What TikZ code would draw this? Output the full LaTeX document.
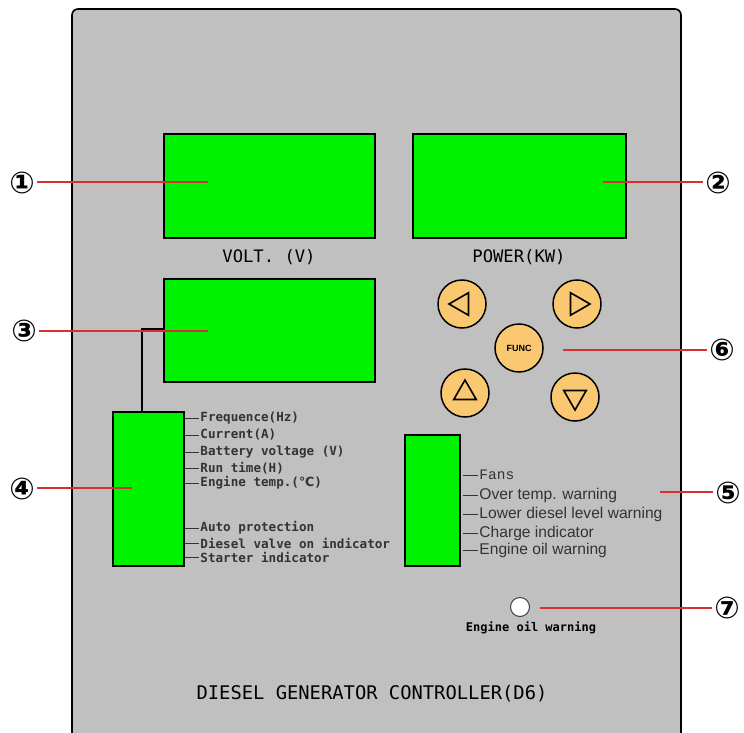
\documentclass[tikz,border=0pt]{standalone}
\usepackage{fontspec}
\setmainfont{DejaVu Sans}
\newfontfamily\panelmono{DejaVu Sans Mono}
\newfontfamily\panelsans{Liberation Sans}
\newfontfamily\panelcour{Liberation Mono}
\usepackage{tikz}
\usetikzlibrary{positioning, shapes.geometric}
\definecolor{panelgray}{RGB}{192,192,192}
\definecolor{lcdgreen}{RGB}{0,242,0}
\definecolor{keyorange}{RGB}{250,200,112}
\definecolor{leadred}{RGB}{214,48,48}

\tikzset{
  lcd/.style={draw=black, line width=1.8pt, fill=lcdgreen, inner sep=0pt, anchor=north west},
  key/.style={circle, draw=black, line width=1.5pt, fill=keyorange, minimum size=48pt, inner sep=0pt},
  keytri/.style={regular polygon, regular polygon sides=3, draw=black, line width=1.6pt, minimum size=26pt, inner sep=0pt},
  marker/.style={font=\bfseries\fontsize{30}{30}\selectfont, inner sep=0pt},
  leader/.style={leadred, line width=1.1pt},
  tick/.style={black!80, line width=0.9pt},
  lamptext/.style={right, inner sep=1pt, font=\panelmono\bfseries\fontsize{12.6}{13}\selectfont},
  warntext/.style={right, inner sep=1pt, font=\panelsans\fontsize{15.6}{16}\selectfont},
  caption/.style={font=\panelmono\fontsize{17.2}{18}\selectfont, inner sep=0pt}
}

\begin{document}
\begin{tikzpicture}[x=1pt, y=-1pt]
    \useasboundingbox (0,0) rectangle (744,733);
    \clip (0,0) rectangle (744,733);

    % front panel
    \draw[fill=panelgray, line width=1.6pt, rounded corners=6pt] (72,9) rectangle (681,745);

    % displays
    \node[lcd, minimum width=211pt, minimum height=104pt] (volt) at (163,133) {};
    \node[lcd, minimum width=213pt, minimum height=104pt] (power) at (412,133) {};
    \node[lcd, minimum width=211pt, minimum height=103pt] (multi) at (163,278) {};
    \node[lcd, minimum width=71pt, minimum height=154pt] (lamps) at (112,411) {};
    \node[lcd, minimum width=55pt, minimum height=131pt] (alarms) at (404,434) {};

    \node[caption] (voltcap) at (269,257) {VOLT. (V)};
    \node[caption] (powercap) at (519,257) {POWER(KW)};

    % multi display to lamp column
    \draw[line width=2pt] ([yshift=1.5pt]multi.west) -| ([xshift=-6pt]lamps.north);

    % keys
    \node[key] (kleft) at (462,304) {};
    \node[key] (kright) at (577,304) {};
    \node[key, font=\panelsans\bfseries\fontsize{9}{9}\selectfont] (kfunc) at (519,348) {FUNC};
    \node[key] (kup) at (465,393) {};
    \node[key] (kdown) at (575,397) {};
    \node[keytri, shape border rotate=90] (tleft) at (kleft) {};
    \node[keytri, shape border rotate=-90] (tright) at (kright) {};
    \node[keytri] (tup) at (kup) {};
    \node[keytri, shape border rotate=180] (tdown) at (kdown) {};

    % indicator lamps, left column
    \foreach \y/\txt [count=\i] in {418/Frequence(Hz), 435/Current(A), 452/Battery voltage (V),
        468/Run time(H), 483/Engine temp.({\rmfamily ℃}), 528/Auto protection,
        543/Diesel valve on indicator, 557/Starter indicator}
      \draw[tick] (185,\y) -- (199,\y) node[lamptext] (lamp\i) {\txt};

    % warning lamps, right column
    \draw[tick] (463,475) -- (478,475) node[right, inner sep=1pt, font=\panelcour\fontsize{14.5}{15}\selectfont] (warn1) {Fans};
    \foreach \y/\txt [count=\i from 2] in {495/Over temp. warning, 514/Lower diesel level warning,
        533/Charge indicator, 550/Engine oil warning}
      \draw[tick] (463,\y) -- (478,\y) node[warntext] (warn\i) {\txt};

    % oil lamp
    \node[circle, draw=black!75, fill=white, line width=1pt, minimum size=19pt, inner sep=0pt] (led) at (520,607) {};
    \node[font=\panelmono\bfseries\fontsize{12}{12}\selectfont, inner sep=0pt] (ledcap) at (531,628) {Engine oil warning};

    \node[font=\panelmono\fontsize{18.8}{19}\selectfont, inner sep=0pt] (title) at (372,694) {DIESEL GENERATOR CONTROLLER(D6)};

    % callout numbers
    \node[marker] (m1) at (22,183) {①};
    \node[marker] (m2) at (718,183) {②};
    \node[marker] (m3) at (24,331) {③};
    \node[marker] (m4) at (22,489) {④};
    \node[marker] (m5) at (728,493) {⑤};
    \node[marker] (m6) at (722,350) {⑥};
    \node[marker] (m7) at (727,608) {⑦};

    \coordinate (p1) at (208,182);
    \coordinate (p2) at (603,182);
    \coordinate (p3) at (208,331);
    \coordinate (p4) at (132,488);
    \coordinate (p5) at (660,492);
    \coordinate (p6) at (563,350);
    \coordinate (p7) at (540,608);

    \draw[leader] ([xshift=2pt]m1.east |- p1) -- (p1);
    \draw[leader] (p2) -- ([xshift=-2pt]m2.west |- p2);
    \draw[leader] ([xshift=2pt]m3.east |- p3) -- (p3);
    \draw[leader] ([xshift=2pt]m4.east |- p4) -- (p4);
    \draw[leader] (p5) -- ([xshift=-2pt]m5.west |- p5);
    \draw[leader] (p6) -- ([xshift=-2pt]m6.west |- p6);
    \draw[leader] (p7) -- ([xshift=-2pt]m7.west |- p7);
\end{tikzpicture}
\end{document}
